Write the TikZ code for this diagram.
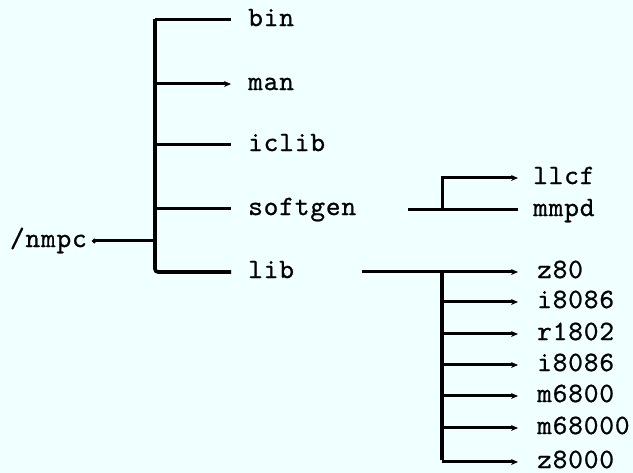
\documentclass[tikz,border=0pt]{standalone}
\usepackage{fontspec}
\usetikzlibrary{arrows.meta}
\newfontfamily\twfam{lmmono10-regular.otf}[LetterSpace=3,FakeBold=0.7]
\newcommand\twfont{\twfam\fontsize{28}{32}\selectfont}
\definecolor{bgcol}{RGB}{240,255,255}
\tikzset{
  lab/.style={anchor=west, inner sep=0pt, text height=12.1pt, text depth=0pt, font=\twfont},
  trunk/.style={line width=3.6pt},
  br/.style={line width=3pt},
  arr/.style={-{Stealth[length=7pt,width=6pt]}},
}
\begin{document}
\begin{tikzpicture}[x=1pt,y=-1pt]
\fill[bgcol] (0,0) rectangle (633,473);
\useasboundingbox (0,0) rectangle (633,473);
% labels
\node[lab, anchor=east] (root) at (87,241) {/nmpc};
\node[lab] (bin) at (248,20) {bin};
\node[lab] (man) at (248,84) {man};
\node[lab] (iclib) at (248,145) {iclib};
\node[lab] (softgen) at (248,209) {softgen};
\node[lab] (lib) at (248,272) {lib};
\node[lab] (llcf) at (533,178) {llcf};
\node[lab] (mmpd) at (533,210) {mmpd};
\node[lab] (z80) at (537,272) {z80};
\node[lab] (ia) at (537,302) {i8086};
\node[lab] (r1802) at (537,334) {r1802};
\node[lab] (ib) at (537,365) {i8086};
\node[lab] (m6800) at (537,396) {m6800};
\node[lab] (m68000) at (537,428) {m68000};
\node[lab] (z8000) at (537,462) {z8000};
% main trunk
\coordinate (j0) at (155,241);
\coordinate (tb) at (155,20);
\coordinate (tm) at (155,84);
\coordinate (ti) at (155,145);
\coordinate (ts) at (155,209);
\coordinate (tl) at (155,272);
\draw[trunk] ([yshift=1.4pt]tb) -- ([yshift=20pt]tl);
\draw[br, {Circle[length=4.5pt]}-, shorten <=5pt] (root) -- (j0);
\draw[br, shorten >=17pt] (tb) -- (bin);
\draw[br, arr, shorten >=17pt] (tm) -- (man);
\draw[br, shorten >=17pt] (ti) -- (iclib);
\draw[br, shorten >=17pt] (ts) -- (softgen);
\draw[trunk, shorten >=17pt, rounded corners=3pt] ([yshift=20pt]tl) -- (tl) -- (lib);
% softgen subtree
\coordinate (sg0) at (408,210);
\coordinate (s0) at (442,210);
\draw[br, shorten >=15pt] (sg0) -- (mmpd);
\draw[br, arr, shorten >=15pt] (s0) |- (llcf);
% lib subtree
\coordinate (lb0) at (362,272);
\coordinate (l0) at (442,272);
\coordinate (l1) at (442,302);
\coordinate (l2) at (442,334);
\coordinate (l3) at (442,365);
\coordinate (l4) at (442,396);
\coordinate (l5) at (442,428);
\coordinate (l6) at (442,462);
\draw[trunk] (l0) -- ([yshift=1.5pt]l6);
\draw[br, arr, shorten >=19pt] (lb0) -- (z80);
\draw[br, arr, shorten >=19pt] (l1) -- (ia);
\draw[br, arr, shorten >=19pt] (l2) -- (r1802);
\draw[br, arr, shorten >=19pt] (l3) -- (ib);
\draw[br, arr, shorten >=19pt] (l4) -- (m6800);
\draw[br, arr, shorten >=19pt] (l5) -- (m68000);
\draw[br, arr, shorten >=19pt] (l6) -- (z8000);
\end{tikzpicture}
\end{document}
